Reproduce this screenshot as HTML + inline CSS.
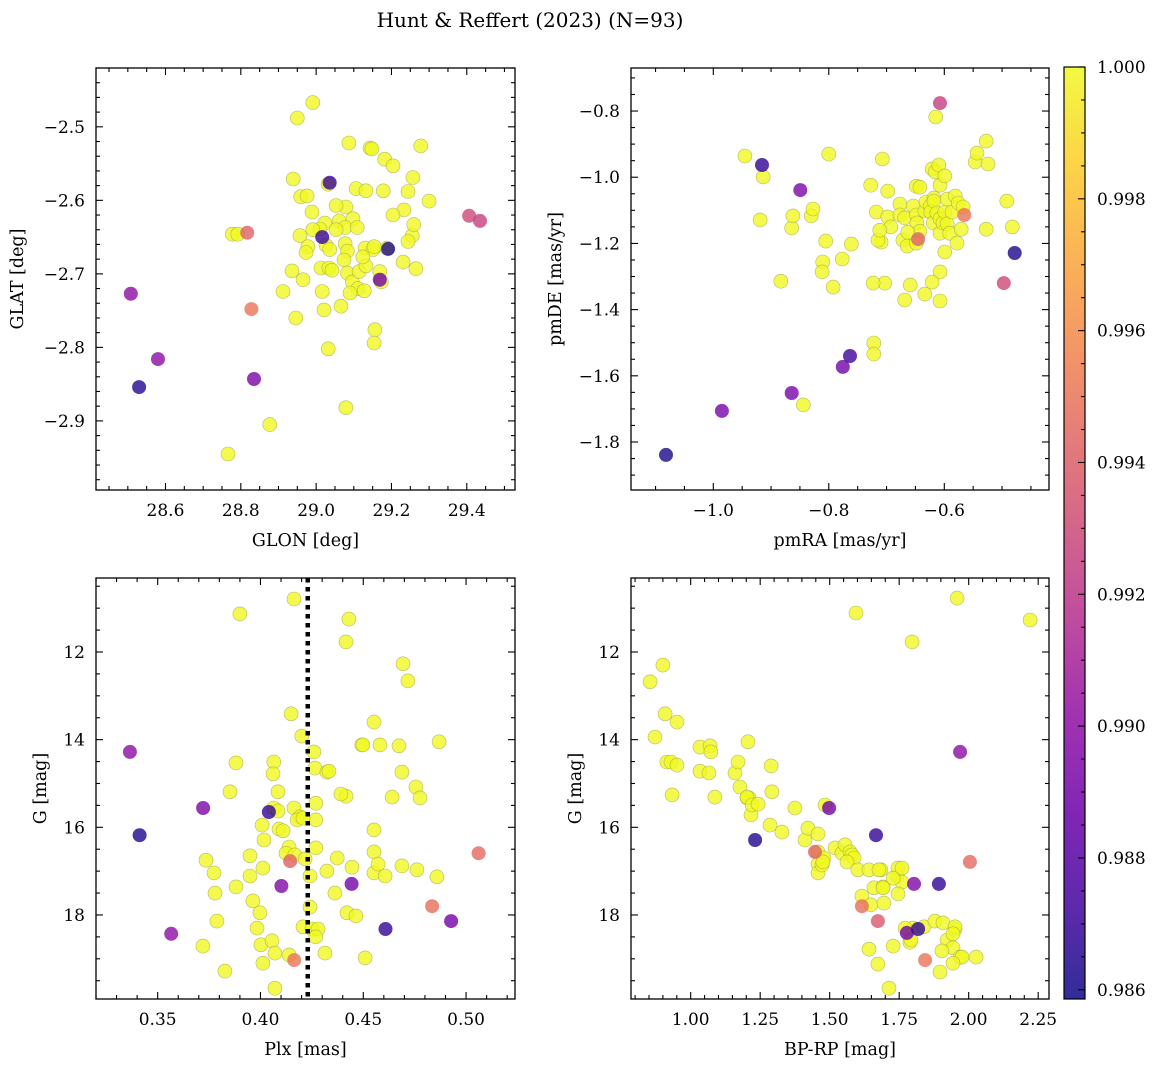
<!DOCTYPE html>
<html><head><meta charset="utf-8">
<style>
html,body{margin:0;padding:0;background:#fff;}
svg{display:block;font-family:"DejaVu Serif","Liberation Serif",serif;}
</style></head>
<body>
<svg id="fig" width="1161" height="1067" viewBox="0 0 1161 1067" xmlns="http://www.w3.org/2000/svg">
<text x="530" y="27" text-anchor="middle" font-size="20">Hunt &amp; Reffert (2023) (N=93)</text>
</svg>
<script>
// ---------- Panel 1 data: GLON / GLAT ----------
const glon = [28.508,28.530,28.580,28.835,28.828,28.817,29.016,29.036,29.191,29.169,29.406,29.435,
28.991,28.950,29.087,29.143,29.148,29.278,29.182,29.204,28.939,28.959,28.976,29.032,29.106,29.178,29.132,29.257,29.244,29.300,29.233,29.204,29.079,29.053,28.989,29.098,29.061,29.023,29.077,29.109,29.053,29.010,28.991,28.957,28.978,29.026,29.077,29.130,29.151,29.188,29.255,29.259,29.244,29.231,29.154,29.083,29.074,29.036,28.973,28.936,29.013,29.034,29.083,29.096,29.114,29.132,29.111,29.128,29.173,29.016,29.066,29.021,28.946,28.912,29.156,29.154,29.032,29.079,28.877,28.766,28.777,28.792,29.265,29.042,29.169,29.124,29.090,28.965];
const glat = [-2.727,-2.854,-2.816,-2.843,-2.748,-2.644,-2.650,-2.576,-2.666,-2.708,-2.621,-2.628,
-2.467,-2.488,-2.522,-2.529,-2.530,-2.526,-2.544,-2.553,-2.571,-2.595,-2.594,-2.578,-2.584,-2.587,-2.587,-2.569,-2.588,-2.601,-2.613,-2.620,-2.609,-2.607,-2.616,-2.625,-2.628,-2.631,-2.637,-2.637,-2.640,-2.639,-2.640,-2.648,-2.663,-2.661,-2.659,-2.665,-2.667,-2.665,-2.648,-2.633,-2.656,-2.684,-2.663,-2.669,-2.681,-2.667,-2.671,-2.696,-2.692,-2.692,-2.699,-2.711,-2.697,-2.689,-2.720,-2.723,-2.711,-2.724,-2.744,-2.749,-2.760,-2.724,-2.776,-2.794,-2.802,-2.882,-2.905,-2.945,-2.646,-2.646,-2.693,-2.695,-2.697,-2.677,-2.726,-2.708];
const prob1 = [0.990,0.9865,0.990,0.9893,0.9950,0.9942,0.9870,0.9870,0.9862,0.9890,0.9930,0.9925];

// ---------- Panel 2 data: pmRA / pmDE ----------
const pmra = [-1.0819,-0.9851,-0.9157,-0.8494,-0.8642,-0.7632,-0.7758,-0.6454,-0.6075,-0.5654,-0.4970,-0.4781,
-0.9452,-0.9136,-0.9189,-0.8000,-0.8642,-0.8621,-0.8305,-0.8273,-0.8831,-0.8105,-0.8053,-0.8116,-0.7926,-0.7768,-0.7611,-0.7274,-0.7074,-0.7179,-0.7095,-0.7148,-0.6980,-0.6980,-0.6927,-0.6769,-0.6769,-0.7032,-0.7232,-0.7221,-0.7221,-0.6685,-0.6717,-0.6643,-0.6538,-0.6485,-0.6422,-0.6485,-0.6475,-0.6422,-0.6485,-0.6338,-0.6317,-0.6243,-0.6233,-0.6191,-0.6180,-0.6180,-0.6128,-0.6075,-0.6075,-0.6022,-0.5991,-0.5991,-0.6075,-0.6212,-0.6075,-0.6338,-0.6685,-0.6590,-0.6149,-0.6212,-0.6159,-0.6096,-0.6075,-0.5949,-0.5949,-0.5907,-0.5865,-0.5812,-0.5759,-0.5675,-0.5780,-0.5707,-0.5465,-0.5275,-0.5244,-0.5275,-0.4918,-0.4823,-0.5433,-0.5991,-0.6632,-0.7116,-0.8442];
const pmde = [-1.839,-1.706,-0.963,-1.039,-1.652,-1.540,-1.573,-1.187,-0.776,-1.114,-1.320,-1.229,
-0.936,-0.999,-1.129,-0.930,-1.153,-1.117,-1.117,-1.096,-1.314,-1.256,-1.193,-1.286,-1.332,-1.247,-1.202,-1.024,-0.945,-1.105,-1.196,-1.190,-1.042,-1.120,-1.150,-1.081,-1.114,-1.320,-1.320,-1.501,-1.534,-1.123,-1.190,-1.208,-1.087,-1.027,-1.030,-1.114,-1.138,-1.163,-1.199,-1.102,-1.075,-1.087,-1.105,-1.138,-1.063,-1.072,-1.108,-1.126,-1.169,-1.138,-1.105,-1.226,-1.286,-1.317,-1.374,-1.353,-1.371,-1.326,-0.818,-0.975,-0.984,-0.963,-1.024,-1.066,-1.141,-1.169,-1.105,-1.057,-1.078,-1.090,-1.199,-1.157,-0.954,-0.891,-0.960,-1.157,-1.072,-1.150,-0.927,-0.996,-1.166,-1.160,-1.688];
const prob2 = [0.9862,0.9892,0.9868,0.9893,0.9892,0.9872,0.9890,0.9942,0.9925,0.9950,0.9930,0.9862];

// ---------- Panel 3 data: Plx / G ----------
const plx = [0.3365,0.3412,0.3566,0.3721,0.4041,0.4102,0.4144,0.4164,0.4443,0.4608,0.4835,0.4927,0.5061,
0.4163,0.3900,0.4430,0.4416,0.4693,0.4717,0.4149,0.4201,0.3881,0.4065,0.4061,0.4260,0.4265,0.4323,0.4333,0.4674,0.4552,0.4493,0.4498,0.4581,0.4869,0.4416,0.4391,0.4085,0.4065,0.4085,0.4163,0.4269,0.4688,0.4008,0.4090,0.4110,0.4192,0.4269,0.4640,0.4756,0.4552,0.4552,0.4776,0.3852,0.3949,0.4178,0.4207,0.4139,0.4124,0.4012,0.4017,0.3949,0.4269,0.4552,0.4373,0.4572,0.4688,0.4761,0.4858,0.3735,0.3774,0.3881,0.3963,0.3997,0.3779,0.3720,0.3788,0.3983,0.4002,0.4012,0.4056,0.4070,0.4207,0.4251,0.4280,0.4269,0.4314,0.4362,0.4445,0.4421,0.4464,0.4509,0.4139,0.4070,0.4167,0.4217,0.4323,0.3827,0.4241,0.4241,0.4606];
const gmag3 = [14.28,16.18,18.43,15.56,15.65,17.34,16.77,19.03,17.29,18.32,17.80,18.14,16.59,
10.79,11.13,11.25,11.77,12.27,12.66,13.41,13.92,14.53,14.51,14.78,14.28,14.65,14.74,14.72,14.14,13.60,14.12,14.12,14.12,14.05,15.29,15.24,15.19,15.56,15.63,15.56,15.45,14.74,15.95,16.04,16.08,15.76,15.83,15.31,15.08,16.06,16.56,15.33,15.19,16.65,15.83,15.79,16.45,16.59,16.93,16.29,17.11,16.47,17.04,16.70,16.84,16.88,16.97,17.13,16.75,17.04,17.36,17.68,17.95,17.50,18.71,18.14,18.30,18.68,19.10,18.59,18.87,18.27,18.32,18.32,18.50,18.87,17.50,16.91,17.95,18.02,18.98,18.91,19.67,16.63,16.72,17.00,19.28,17.82,17.11,17.11];
const prob3 = [0.990,0.9862,0.9900,0.9893,0.9868,0.9895,0.9942,0.9950,0.9890,0.9868,0.9948,0.9890,0.9945];
const plxLine = [0.4230];

// ---------- Panel 4 data: BP-RP / G ----------
const bprp = [1.2316,1.4979,1.4472,1.6160,1.6667,1.8033,1.8179,1.8433,1.7779,1.8930,1.9691,2.0042,1.6735,
0.8541,0.8999,0.8717,0.9078,0.9507,0.9146,0.9331,0.9292,0.9507,1.0336,1.0336,1.0658,1.0697,1.0726,1.0872,1.2063,1.1594,1.1702,1.1770,1.2102,1.2170,1.2921,1.2892,1.2024,1.2024,1.2209,1.2424,1.2853,1.3282,1.3750,1.4111,1.4218,1.4579,1.4579,1.4579,1.4579,1.4794,1.4726,1.4755,1.4833,1.5194,1.5438,1.5555,1.5730,1.5799,1.5877,1.5623,1.6013,1.6160,1.6413,1.6482,1.6589,1.6843,1.6921,1.6950,1.6774,1.7418,1.7457,1.7603,1.7603,1.5945,1.7964,1.9584,2.2208,1.7282,1.7886,1.7925,1.7994,1.8394,1.8784,1.9076,1.9223,1.9437,1.9506,1.9506,1.9437,1.9691,1.9037,1.9759,2.0267,1.8969,1.9437,1.6921,1.6735,1.7282,1.6413,1.7135,1.7711,1.7457];
const gmag4 = [16.29,15.56,16.56,17.80,16.18,17.29,18.32,19.03,18.41,17.29,14.28,16.79,18.14,
12.68,12.30,13.94,13.41,13.60,14.51,15.26,14.51,14.58,14.17,14.72,14.76,14.14,14.28,15.31,14.05,14.76,14.51,15.08,15.33,15.72,15.19,14.60,15.33,15.31,15.49,15.47,15.95,16.11,15.56,16.29,16.02,16.15,16.56,16.84,17.04,16.70,16.86,16.79,15.49,16.47,16.59,16.40,16.56,16.63,16.70,16.79,16.97,17.57,16.97,17.77,17.38,16.97,17.36,17.73,16.97,17.11,16.93,16.93,17.25,11.11,11.77,10.77,11.27,17.16,18.62,18.57,18.30,18.27,18.14,18.18,18.57,18.75,18.32,18.27,18.43,18.96,18.82,18.96,18.96,19.30,19.10,17.38,19.12,18.71,18.78,19.67,18.30,17.52];
const prob4 = [0.9862,0.9890,0.9942,0.9948,0.9868,0.9895,0.9868,0.9950,0.9890,0.9868,0.9900,0.9945,0.9938];

// ---------- colorbar ----------
const cbTicks = [0.986,0.988,0.990,0.992,0.994,0.996,0.998,1.000];
const cbMin = 0.98586, cbMax = 1.0;

const NS = "http://www.w3.org/2000/svg";
const svg = document.getElementById('fig');
function mk(tag, attrs, parent){
  const e = document.createElementNS(NS, tag);
  for (const k in attrs) e.setAttribute(k, attrs[k]);
  (parent||svg).appendChild(e);
  return e;
}
const stops = [[0,13,8,135],[0.1,65,4,157],[0.2,106,0,168],[0.3,143,13,164],[0.4,177,42,144],[0.5,204,71,120],[0.6,225,100,98],[0.7,242,132,75],[0.8,252,166,54],[0.9,252,206,37],[1,240,249,33]];
function plasma(t){
  t=Math.max(0,Math.min(1,t));
  for(let i=0;i<stops.length-1;i++){
    const a=stops[i],b=stops[i+1];
    if(t<=b[0]){const f=(t-a[0])/(b[0]-a[0]);
      return `rgb(${Math.round(a[1]+f*(b[1]-a[1]))},${Math.round(a[2]+f*(b[2]-a[2]))},${Math.round(a[3]+f*(b[3]-a[3]))})`;}
  }
  return 'rgb(240,249,33)';
}
function probAt(arr,i){ return i<arr.length?arr[i]:1.0; }
function fmt(v,d){ const s=Math.abs(v).toFixed(d); return (v<-1e-9?'\u2212':'')+s; }

function panel(o){
  const g = mk('g',{});
  
  
  const sx = v => o.L + (v-o.xmin)/(o.xmax-o.xmin)*(o.R-o.L);
  const sy = o.yinv ? (v => o.T + (v-o.ymin)/(o.ymax-o.ymin)*(o.B-o.T))
                    : (v => o.B - (v-o.ymin)/(o.ymax-o.ymin)*(o.B-o.T));
  const clip = mk('clipPath',{id:o.name+'-clip'},g);
  mk('rect',{x:o.L,y:o.T,width:o.R-o.L,height:o.B-o.T},clip);
  const pts = mk('g',{'clip-path':`url(#${o.name}-clip)`},g);
  const idx = o.xs.map((_,i)=>i).sort((a,b)=>probAt(o.pr,b)-probAt(o.pr,a));
  idx.forEach(i=>{
    const p = probAt(o.pr,i);
    const c = mk('circle',{cx:sx(o.xs[i]).toFixed(1),cy:sy(o.ys[i]).toFixed(1),r:7,fill:plasma((p-cbMin)/(cbMax-cbMin)),'fill-opacity':0.8,stroke:p>0.9995?'#9a9a50':'none','stroke-opacity':0.7,'stroke-width':0.6},pts);
    
    
  });
  if(o.vline){
    o.vline.forEach(v=>{
      const l = mk('line',{x1:sx(v),x2:sx(v),y1:o.T,y2:o.B,stroke:'#000','stroke-width':4.5,'stroke-dasharray':'4.5 4.5'},g);
      
      
    });
  }
  const tk = mk('g',{stroke:'#000','stroke-width':1.1},g);
  const eps=1e-9;
  for(let v=Math.ceil(o.xmin/o.xminor-eps)*o.xminor; v<=o.xmax+eps; v+=o.xminor){
    const isMaj = Math.abs(v/o.xmajor-Math.round(v/o.xmajor))<1e-6;
    const len = isMaj?7:4, x=sx(v);
    mk('line',{x1:x,x2:x,y1:o.B,y2:o.B-len},tk);
    mk('line',{x1:x,x2:x,y1:o.T,y2:o.T+len},tk);
    if(isMaj){
      const t = mk('text',{x:x,y:o.B+26,'text-anchor':'middle','font-size':17,stroke:'none',fill:'#000'},g);
      t.textContent = fmt(v,o.xdec);
      
      
    }
  }
  for(let v=Math.ceil(Math.min(o.ymin,o.ymax)/o.yminor-eps)*o.yminor; v<=Math.max(o.ymin,o.ymax)+eps; v+=o.yminor){
    const isMaj = Math.abs(v/o.ymajor-Math.round(v/o.ymajor))<1e-6;
    const len = isMaj?7:4, y=sy(v);
    mk('line',{x1:o.L,x2:o.L+len,y1:y,y2:y},tk);
    mk('line',{x1:o.R,x2:o.R-len,y1:y,y2:y},tk);
    if(isMaj){
      const t = mk('text',{x:o.L-11,y:y+6,'text-anchor':'end','font-size':17,stroke:'none',fill:'#000'},g);
      t.textContent = fmt(v,o.ydec);
      
      
    }
  }
  const fr = mk('rect',{x:o.L,y:o.T,width:o.R-o.L,height:o.B-o.T,fill:'none',stroke:'#000','stroke-width':1.3},g);
  
  
  const xl = mk('text',{x:(o.L+o.R)/2,y:o.B+56,'text-anchor':'middle','font-size':17.5},g);
  xl.textContent = o.xlabel;
  
  
  const yl = mk('text',{x:0,y:0,'text-anchor':'middle','font-size':17.5,transform:`translate(${o.ylx},${(o.T+o.B)/2}) rotate(-90)`},g);
  yl.textContent = o.ylabel;
  
  
}

panel({name:'glon-glat-panel',L:96,R:515,T:68,B:490,xmin:28.4155,xmax:29.528,ymin:-2.994,ymax:-2.420,
  xmajor:0.2,xminor:0.05,ymajor:0.1,yminor:0.02,xdec:1,ydec:1,xs:glon,ys:glat,pr:prob1,
  xlabel:'GLON [deg]',ylabel:'GLAT [deg]',ylx:23});
panel({name:'proper-motion-panel',L:631,R:1049,T:68,B:490,xmin:-1.1425,xmax:-0.4187,ymin:-1.945,ymax:-0.670,
  xmajor:0.2,xminor:0.05,ymajor:0.2,yminor:0.05,xdec:1,ydec:1,xs:pmra,ys:pmde,pr:prob2,
  xlabel:'pmRA [mas/yr]',ylabel:'pmDE [mas/yr]',ylx:561});
panel({name:'parallax-mag-panel',L:96,R:515,T:578,B:999,xmin:0.3200,xmax:0.5238,ymin:10.312,ymax:19.917,yinv:true,
  xmajor:0.05,xminor:0.01,ymajor:2,yminor:0.5,xdec:2,ydec:0,xs:plx,ys:gmag3,pr:prob3,vline:plxLine,
  xlabel:'Plx [mas]',ylabel:'G [mag]',ylx:46});
panel({name:'color-mag-panel',L:631,R:1049,T:578,B:999,xmin:0.7853,xmax:2.2889,ymin:10.312,ymax:19.917,yinv:true,
  xmajor:0.25,xminor:0.05,ymajor:2,yminor:0.5,xdec:2,ydec:0,xs:bprp,ys:gmag4,pr:prob4,
  xlabel:'BP-RP [mag]',ylabel:'G [mag]',ylx:581});

(function(){
  const g = mk('g',{});
  
  
  const L=1064,R=1085,T=67,B=999;
  const defs = mk('defs',{},g);
  const lg = mk('linearGradient',{id:'cbgrad',x1:0,y1:1,x2:0,y2:0},defs);
  for(let i=0;i<=20;i++){ mk('stop',{offset:i/20,'stop-color':plasma(i/20),'stop-opacity':0.85},lg); }
  mk('rect',{x:L,y:T,width:R-L,height:B-T,fill:'url(#cbgrad)',stroke:'#000','stroke-width':1.2},g);
  const sy = v => B - (v-cbMin)/(cbMax-cbMin)*(B-T);
  for(let v=0.9860; v<=1.00001; v+=0.0005){
    const y=sy(v); const maj = Math.abs(v*1000/2-Math.round(v*1000/2))<1e-4;
    mk('line',{x1:R,x2:R-(maj?7:4),y1:y,y2:y,stroke:'#000','stroke-width':1.1},g);
  }
  cbTicks.forEach(v=>{
    const t = mk('text',{x:R+12,y:sy(v)+6,'font-size':17},g);
    t.textContent = v.toFixed(3);
    
    
  });
})();
</script>
</body></html>
